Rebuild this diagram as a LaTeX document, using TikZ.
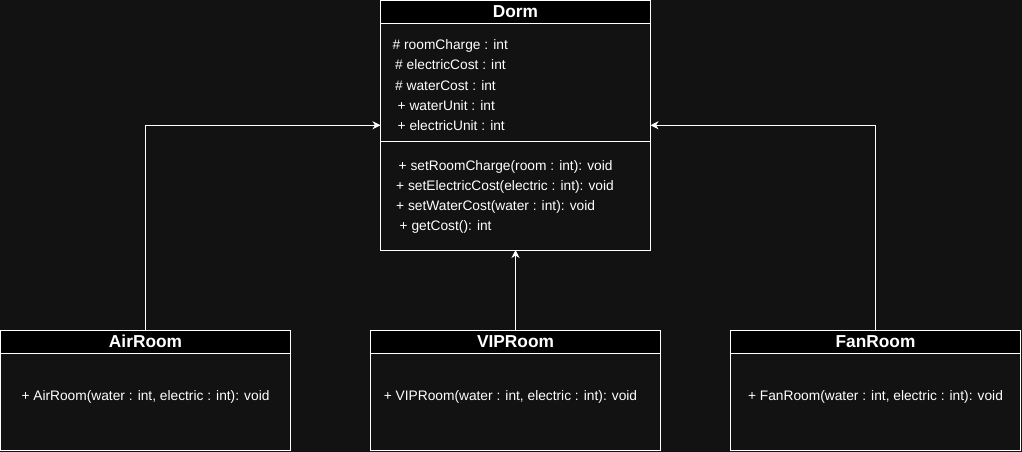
\documentclass[tikz,border=0pt]{standalone}
\usepackage{fontspec}
\setmainfont{Liberation Sans}
\usetikzlibrary{arrows.meta}
\definecolor{bg}{HTML}{121212}
\begin{document}
\begin{tikzpicture}[x=1pt,y=-1pt,
  box/.style={draw=white,line width=1pt,fill=bg,inner sep=0pt,outer sep=0pt,anchor=north west},
  headbox/.style={draw=white,line width=1pt,fill=black,inner sep=0pt,outer sep=0pt,anchor=north west},
  title/.style={text=white,font=\fontsize{17.3}{20}\selectfont\bfseries,inner sep=0pt,anchor=base},
  txt/.style={text=white,font=\fontsize{13.75}{16}\selectfont,inner sep=0pt,anchor=base west},
  ctxt/.style={text=white,font=\fontsize{13.75}{16}\selectfont,inner sep=0pt,anchor=base},
  sep/.style={draw=white,line width=1pt},
  conn/.style={draw=white,line width=1pt,-{Stealth[length=8pt,width=8pt,inset=2.5pt]}}
]
\fill[bg] (0,0) rectangle (1022,452);
\useasboundingbox (0,0) rectangle (1022,452);

% Dorm
\node[box,minimum width=270pt,minimum height=249.5pt] (dorm) at (380.5,0.5) {};
\node[headbox,minimum width=270pt,minimum height=23.5pt] (dormhead) at (380.5,0.5) {};
\node[title] (dormtitle) at (515.5,17.5) {Dorm};
\coordinate (sepL) at (380.5,141);
\coordinate (sepR) at (650.5,141);
\draw[sep] (sepL) -- (sepR);
\node[txt] (a1) at (392.5,50) {\# roomCharge : int};
\node[txt] (a2) at (395,70) {\# electricCost : int};
\node[txt] (a3) at (395,90) {\# waterCost : int};
\node[txt] (a4) at (397.5,110) {+ waterUnit : int};
\node[txt] (a5) at (397.5,130) {+ electricUnit : int};
\node[txt] (m1) at (398.5,170) {+ setRoomCharge(room : int): void};
\node[txt] (m2) at (396,190) {+ setElectricCost(electric : int): void};
\node[txt] (m3) at (396,210) {+ setWaterCost(water : int): void};
\node[txt] (m4) at (399.5,230) {+ getCost(): int};

% AirRoom
\node[box,minimum width=290pt,minimum height=120pt] (air) at (0.5,330.5) {};
\node[headbox,minimum width=290pt,minimum height=23pt] (airhead) at (0.5,330.5) {};
\node[title] (airtitle) at (145.5,347.5) {AirRoom};
\node[ctxt] (airm) at (145.5,400) {+ AirRoom(water : int, electric : int): void};

% VIPRoom
\node[box,minimum width=290pt,minimum height=120pt] (vip) at (370.5,330.5) {};
\node[headbox,minimum width=290pt,minimum height=23pt] (viphead) at (370.5,330.5) {};
\node[title] (viptitle) at (515.5,347.5) {VIPRoom};
\node[ctxt] (vipm) at (510.5,400) {+ VIPRoom(water : int, electric : int): void};

% FanRoom
\node[box,minimum width=290pt,minimum height=120pt] (fan) at (730.5,330.5) {};
\node[headbox,minimum width=290pt,minimum height=23pt] (fanhead) at (730.5,330.5) {};
\node[title] (fantitle) at (875.5,347.5) {FanRoom};
\node[ctxt] (fanm) at (875.5,400) {+ FanRoom(water : int, electric : int): void};

% connectors
\draw[conn] (air.north) |- (dorm.west);
\draw[conn] (vip.north) -- (dorm.south);
\draw[conn] (fan.north) |- (dorm.east);
\end{tikzpicture}
\end{document}
